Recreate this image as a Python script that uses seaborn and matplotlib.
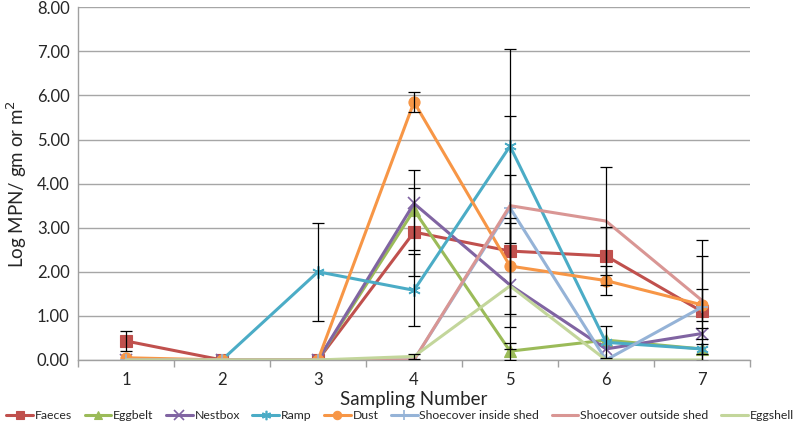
import numpy as np
import pandas as pd
import matplotlib
matplotlib.use("Agg")
import matplotlib.pyplot as plt
import seaborn as sns

# ── Data ─────────────────────────────────────────────────────────────────
sampling = [1, 2, 3, 4, 5, 6, 7]

faeces     = [0.43, 0.00, 0.00, 2.90, 2.47, 2.36, 1.10]
eggbelt    = [0.00, 0.00, 0.00, 3.40, 0.20, 0.45, 0.25]
nestbox    = [0.00, 0.00, 0.00, 3.55, 1.70, 0.25, 0.60]
ramp       = [0.00, 0.00, 2.00, 1.58, 4.85, 0.40, 0.25]
dust       = [0.05, 0.00, 0.00, 5.85, 2.13, 1.80, 1.25]
shoe_in    = [0.00, 0.00, 0.00, 0.00, 3.45, 0.00, 1.20]
shoe_out   = [0.00, 0.00, 0.00, 0.00, 3.50, 3.15, 1.35]
eggshell   = [0.00, 0.00, 0.00, 0.08, 1.68, 0.00, 0.00]

faeces_err   = [0.22, 0.00, 0.00, 1.00, 1.72, 0.65, 1.26]
eggbelt_err  = [0.00, 0.00, 0.00, 0.90, 0.19, 0.00, 0.12]
nestbox_err  = [0.00, 0.00, 0.00, 0.00, 0.00, 0.00, 0.13]
ramp_err     = [0.00, 0.00, 1.11, 0.82, 2.20, 0.36, 0.00]
dust_err     = [0.00, 0.00, 0.00, 0.22, 1.08, 0.33, 0.36]
shoe_in_err  = [0.00, 0.00, 0.00, 0.00, 0.00, 0.00, 0.00]
shoe_out_err = [0.00, 0.00, 0.00, 0.00, 2.04, 1.22, 1.37]
eggshell_err = [0.00, 0.00, 0.00, 0.05, 1.43, 0.00, 0.00]

names = ["Faeces", "Eggbelt", "Nestbox", "Ramp", "Dust",
         "Shoecover inside shed", "Shoecover outside shed", "Eggshell"]
values = [faeces, eggbelt, nestbox, ramp, dust, shoe_in, shoe_out, eggshell]
errors = [faeces_err, eggbelt_err, nestbox_err, ramp_err, dust_err,
          shoe_in_err, shoe_out_err, eggshell_err]

colors  = ["#C0504D", "#9BBB59", "#8064A2", "#4BACC6", "#F79646",
           "#95B3D7", "#D99694", "#C3D69B"]
markers = ["s", "^", "x", (6, 2, 0), "o", "+", None, None]

sns.set_theme(style="white")
plt.rcParams["font.family"] = ["Lato", "DejaVu Sans"]

fig = plt.figure(figsize=(8, 4.26), dpi=100)
ax = fig.add_axes([0.0975, 0.155, 0.84, 0.828])

for name, vals, errs, col, mk in zip(names, values, errors, colors, markers):
    d = pd.DataFrame({"x": sampling, "y": vals})
    thin = mk in ("x", "+") or isinstance(mk, tuple)
    sns.lineplot(data=d, x="x", y="y", ax=ax, color=col, linewidth=2.2,
                 marker=mk, markersize=9 if thin else 8,
                 markeredgecolor=col, markeredgewidth=1.2 if thin else 0.8,
                 label=name)

# error bars (black, capped)
for vals, errs in zip(values, errors):
    e = np.array(errs)
    m = e > 0
    ax.errorbar(np.array(sampling)[m], np.array(vals)[m], yerr=e[m],
                fmt="none", ecolor="black", elinewidth=0.9, capsize=4,
                capthick=0.9, zorder=5)

ax.set_xlim(0.5, 7.5)
ax.set_ylim(0, 8)
ax.set_xticks(sampling)
ax.set_xticks(np.arange(0.5, 8.0, 1.0), minor=True)
ax.set_yticks(np.arange(0, 8.5, 1.0))
ax.set_yticklabels([f"{v:.2f}" for v in np.arange(0, 8.5, 1.0)])
ax.tick_params(axis="x", which="major", length=0, labelsize=12, pad=9)
ax.tick_params(axis="x", which="minor", length=5, width=1, color="#A0A0A0",
               direction="out", bottom=True)
ax.tick_params(axis="y", length=0, labelsize=12, pad=6)
ax.yaxis.grid(True, color="#A6A6A6", linewidth=1)
ax.set_axisbelow(True)
for s in ["top", "right"]:
    ax.spines[s].set_visible(False)
for s in ["left", "bottom"]:
    ax.spines[s].set_color("#A0A0A0")
    ax.spines[s].set_linewidth(1)

ax.set_xlabel("Sampling Number", fontsize=13.5, labelpad=2)
ax.set_ylabel("Log MPN/ gm or m$^2$", fontsize=13.5, labelpad=6)

handles, labels = ax.get_legend_handles_labels()
if ax.legend_:
    ax.legend_.remove()
fig.legend(handles, labels, loc="lower center", ncol=8, frameon=False,
           bbox_to_anchor=(0.5, -0.015), fontsize=8.8, handlelength=2.2,
           columnspacing=1.0, handletextpad=0.15, markerscale=0.75)

plt.savefig("out.png", dpi=100)
plt.close()
